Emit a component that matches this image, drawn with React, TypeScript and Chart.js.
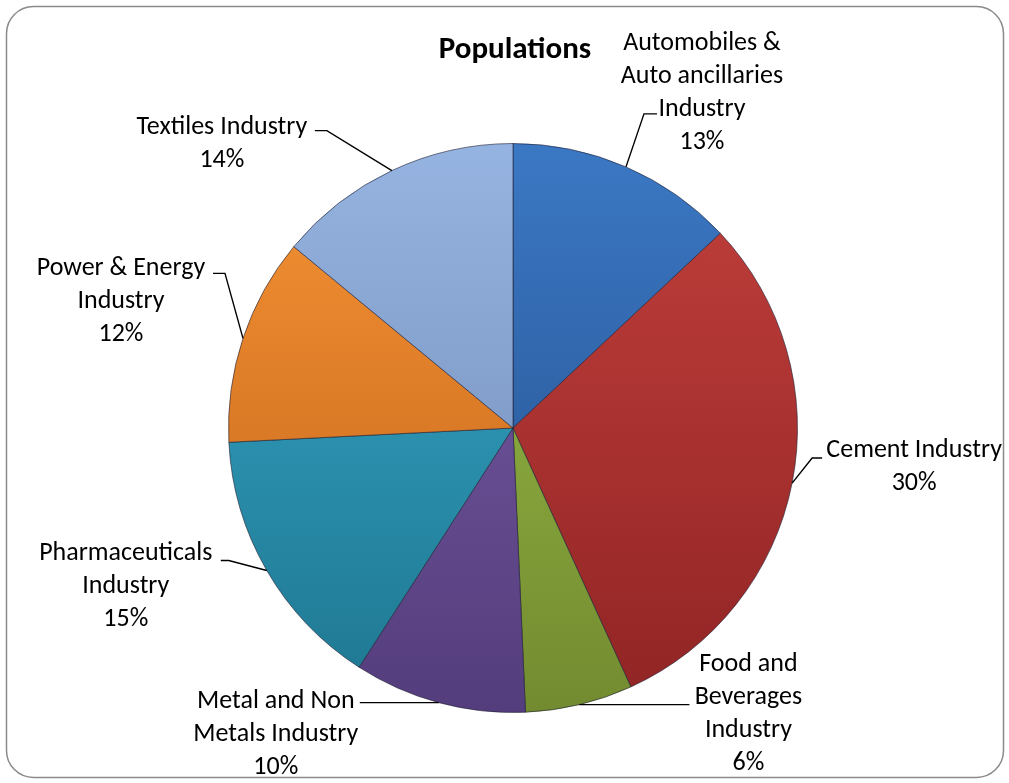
import React, { useEffect, useRef } from "react";
import { Chart, registerables } from "chart.js";

Chart.register(...registerables);

const TITLE = "Populations";
const CATEGORIES = [
  "Automobiles &\nAuto ancillaries\nIndustry",
  "Cement Industry",
  "Food and\nBeverages\nIndustry",
  "Metal and Non\nMetals Industry",
  "Pharmaceuticals\nIndustry",
  "Power & Energy\nIndustry",
  "Textiles Industry",
];
const VALUES = [13.0, 30.2, 6.1, 9.8, 15.1, 11.8, 14.0];
// top / bottom gradient colours per slice
const TOP_COLORS = ["#3b78c4", "#c2403c", "#9bc049", "#7b5ea8", "#38abcc", "#f69435", "#96b4e1"];
const BOTTOM_COLORS = ["#234d88", "#902424", "#738b30", "#543d7c", "#1e7690", "#c06018", "#6d86b1"];

// label layout relative to the slice's outer mid-point: elbow, end of leader, text centre (first line)
const LABEL_LAYOUT = [
  { elbow: [18, -53], end: [31, -53], text: [76, -123] },
  { elbow: [20, -25], end: [30, -25], text: [122, -33] },
  { elbow: [0, 0], end: [110, 0], text: [169, -40] },
  { elbow: [0, 0], end: [-79, 0], text: [-163, -1] },
  { elbow: [-38, -10], end: [-46, -10], text: [-141, -17] },
  { elbow: [-18, -65], end: [-30, -65], text: [-122, -70] },
  { elbow: [-65, -40], end: [-77, -40], text: [-170, -43] },
];

const FONT = "Carlito, Lato, 'Open Sans', sans-serif";
const LINE_H = 33;

const framePlugin = {
  id: "frame",
  beforeDraw(chart: any) {
    const ctx = chart.ctx;
    ctx.save();
    ctx.fillStyle = "#ffffff";
    ctx.fillRect(0, 0, chart.width, chart.height);
    const x = 6.5, y = 6.5, w = 997, h = 771, r = 27;
    ctx.beginPath();
    ctx.moveTo(x + r, y);
    ctx.lineTo(x + w - r, y);
    ctx.arcTo(x + w, y, x + w, y + r, r);
    ctx.lineTo(x + w, y + h - r);
    ctx.arcTo(x + w, y + h, x + w - r, y + h, r);
    ctx.lineTo(x + r, y + h);
    ctx.arcTo(x, y + h, x, y + h - r, r);
    ctx.lineTo(x, y + r);
    ctx.arcTo(x, y, x + r, y, r);
    ctx.closePath();
    ctx.strokeStyle = "#8a8a8a";
    ctx.lineWidth = 1.5;
    ctx.stroke();
    ctx.restore();
  },
  afterDatasetsDraw(chart: any) {
    const ctx = chart.ctx;
    const meta = chart.getDatasetMeta(0);
    const data = chart.data.datasets[0].data as number[];
    const total = data.reduce((a, b) => a + b, 0);
    ctx.save();
    // title
    ctx.fillStyle = "#000";
    ctx.font = `bold 31px ${FONT}`;
    ctx.textAlign = "center";
    ctx.textBaseline = "middle";
    ctx.fillText(TITLE, 515, 50);

    ctx.font = `26px ${FONT}`;
    meta.data.forEach((arc: any, i: number) => {
      const p = arc.getProps(["x", "y", "startAngle", "endAngle", "outerRadius"], true);
      const mid = (p.startAngle + p.endAngle) / 2;
      const ax = p.x + Math.cos(mid) * p.outerRadius;
      const ay = p.y + Math.sin(mid) * p.outerRadius;
      const L = LABEL_LAYOUT[i];
      ctx.beginPath();
      ctx.moveTo(ax, ay);
      ctx.lineTo(ax + L.elbow[0], ay + L.elbow[1]);
      ctx.lineTo(ax + L.end[0], ay + L.end[1]);
      ctx.strokeStyle = "#000";
      ctx.lineWidth = 1.4;
      ctx.stroke();
      const lines = String(chart.data.labels[i]).split("\n");
      lines.push(Math.round((data[i] / total) * 100) + "%");
      lines.forEach((t: string, j: number) => {
        ctx.fillText(t, ax + L.text[0], ay + L.text[1] + j * LINE_H);
      });
    });
    ctx.restore();
  },
};

export default function App() {
  const ref = useRef<HTMLCanvasElement>(null);
  useEffect(() => {
    const canvas = ref.current!;
    const makeGrad = (ctx: any, area: any, top: string, bottom: string) => {
      const g = ctx.createLinearGradient(0, area.top, 0, area.bottom);
      g.addColorStop(0, top);
      g.addColorStop(1, bottom);
      return g;
    };
    const chart = new Chart(canvas, {
      type: "pie",
      data: {
        labels: CATEGORIES,
        datasets: [
          {
            data: VALUES,
            backgroundColor: (c: any) => {
              const { ctx, chartArea } = c.chart;
              if (!chartArea) return TOP_COLORS[c.dataIndex];
              return makeGrad(ctx, chartArea, TOP_COLORS[c.dataIndex], BOTTOM_COLORS[c.dataIndex]);
            },
            borderColor: "rgba(30,30,50,0.6)",
            borderWidth: 1,
          },
        ],
      },
      options: {
        responsive: false,
        animation: false,
        layout: { padding: { top: 143, bottom: 70, left: 100, right: 83 } },
        plugins: {
          legend: { display: false },
          tooltip: { enabled: false },
          title: { display: false },
        },
      },
      plugins: [framePlugin],
    });
    return () => chart.destroy();
  }, []);
  return (
    <div style={{ position: "absolute", left: 0, top: 0, width: 1009, height: 783 }}>
      <canvas ref={ref} width={1009} height={783} />
    </div>
  );
}
